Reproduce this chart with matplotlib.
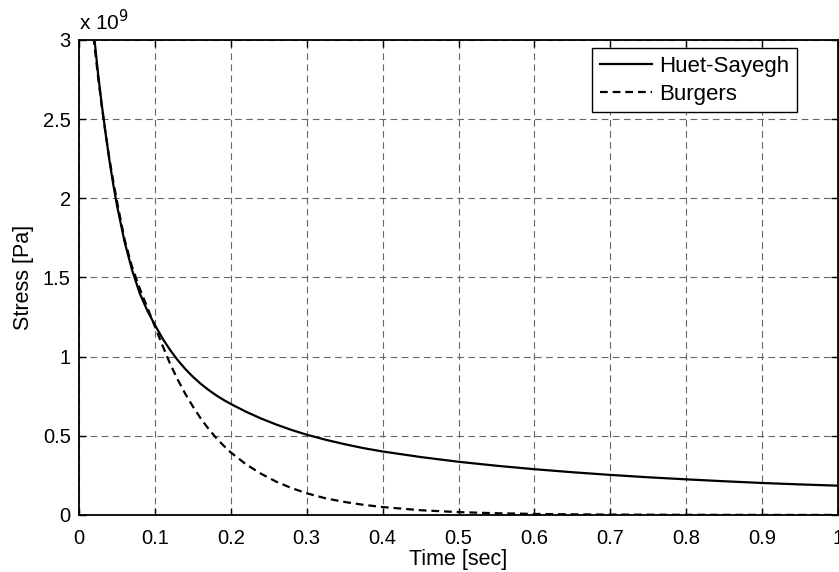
import matplotlib.pyplot as plt

plt.rcParams['font.family'] = ['Liberation Sans', 'DejaVu Sans']

# Time [sec]
t_hs = [0.015, 0.02, 0.025, 0.03, 0.035, 0.04, 0.045, 0.05, 0.06, 0.07, 0.08, 0.09,
        0.1, 0.11, 0.12, 0.13, 0.14, 0.15, 0.16, 0.17, 0.18, 0.19, 0.2,
        0.22, 0.24, 0.26, 0.28, 0.3, 0.325, 0.35, 0.375, 0.4, 0.45, 0.5,
        0.55, 0.6, 0.65, 0.7, 0.75, 0.8, 0.85, 0.9, 0.95, 1.0]
# Huet-Sayegh stress [x 1e9 Pa]
s_hs = [3.5, 3.02, 2.79, 2.59, 2.41, 2.24, 2.09, 1.955, 1.725, 1.545, 1.40, 1.29,
        1.2, 1.115, 1.042, 0.978, 0.922, 0.873, 0.83, 0.792, 0.758, 0.728, 0.701,
        0.652, 0.609, 0.571, 0.537, 0.507, 0.475, 0.447, 0.422, 0.401, 0.366, 0.336,
        0.311, 0.289, 0.27, 0.253, 0.238, 0.225, 0.213, 0.202, 0.193, 0.185]

t_bg = [0.015, 0.02, 0.025, 0.03, 0.035, 0.04, 0.045, 0.05, 0.06, 0.07, 0.08, 0.09,
        0.1, 0.11, 0.12, 0.13, 0.14, 0.15, 0.16, 0.17, 0.18, 0.19, 0.2,
        0.22, 0.24, 0.26, 0.28, 0.3, 0.325, 0.35, 0.375, 0.4, 0.45, 0.5,
        0.55, 0.6, 0.65, 0.7, 0.8, 0.9, 1.0]
# Burgers stress [x 1e9 Pa]
s_bg = [3.55, 2.98, 2.77, 2.58, 2.41, 2.25, 2.11, 1.98, 1.74, 1.565, 1.43, 1.31,
        1.19, 1.07, 0.955, 0.855, 0.765, 0.685, 0.612, 0.548, 0.49, 0.44, 0.395,
        0.32, 0.26, 0.21, 0.17, 0.137, 0.105, 0.082, 0.064, 0.05, 0.03, 0.018,
        0.011, 0.0065, 0.004, 0.0025, 0.001, 0.0004, 0.0002]

x_ticks = [0, 0.1, 0.2, 0.3, 0.4, 0.5, 0.6, 0.7, 0.8, 0.9, 1]
x_labels = ['0', '0.1', '0.2', '0.3', '0.4', '0.5', '0.6', '0.7', '0.8', '0.9', '1']
y_ticks = [0, 0.5, 1, 1.5, 2, 2.5, 3]
y_labels = ['0', '0.5', '1', '1.5', '2', '2.5', '3']

fig = plt.figure(figsize=(8.39, 5.72), dpi=100)
ax = fig.add_axes([0.0942, 0.0997, 0.9046, 0.8304])

ax.plot(t_hs, s_hs, color='k', linewidth=1.6, linestyle='-', label='Huet-Sayegh')
ax.plot(t_bg, s_bg, color='k', linewidth=1.6, linestyle=(0, (3.5, 2.2)), label='Burgers')

ax.set_xlim(0, 1)
ax.set_ylim(0, 3)
ax.set_xticks(x_ticks)
ax.set_xticklabels(x_labels)
ax.set_yticks(y_ticks)
ax.set_yticklabels(y_labels)

ax.grid(True, color='0.4', linestyle=(0, (6, 4)), linewidth=0.8)
ax.tick_params(direction='in', top=True, right=True, length=5, width=1,
               labelsize=14.5)
ax.tick_params(axis='x', pad=10)
ax.tick_params(axis='y', pad=6)
for sp in ax.spines.values():
    sp.set_linewidth(1.3)

ax.set_xlabel('Time [sec]', fontsize=15.5, labelpad=1)
ax.set_ylabel('Stress [Pa]', fontsize=15.5, labelpad=6)

ax.text(0.0, 1.012, r'x 10$^{9}$', transform=ax.transAxes, fontsize=15,
        ha='left', va='bottom')

leg = ax.legend(loc='upper right', bbox_to_anchor=(0.946, 0.983), fontsize=16,
                fancybox=False, edgecolor='k', framealpha=1, handlelength=2.35,
                borderaxespad=0, borderpad=0.35, labelspacing=0.3, handletextpad=0.3)
leg.get_frame().set_linewidth(1.0)

plt.savefig('out.png', dpi=100)
